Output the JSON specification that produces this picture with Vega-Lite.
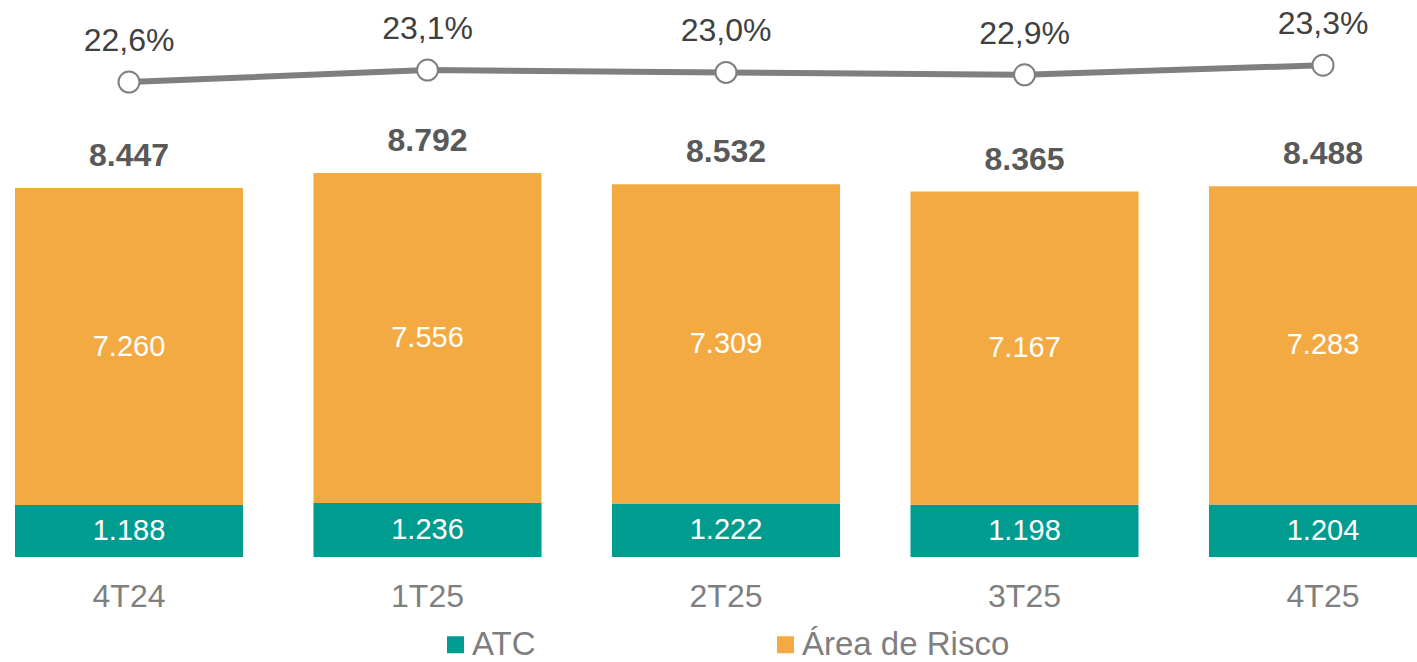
{
  "$schema": "https://vega.github.io/schema/vega-lite/v6.json",
  "width": 1417,
  "height": 557,
  "autosize": {"type": "none"},
  "padding": {"left": 0, "top": 0, "right": 0, "bottom": 105},
  "background": "white",
  "config": {
    "view": {"stroke": null},
    "font": "Liberation Sans",
    "locale": {"number": {"decimal": ",", "thousands": ".", "grouping": [3], "currency": ["R$", ""]}}
  },
  "datasets": {
    "barras": [
      {"periodo": "4T24", "serie": "ATC", "valor": 1188},
      {"periodo": "4T24", "serie": "Área de Risco", "valor": 7260},
      {"periodo": "1T25", "serie": "ATC", "valor": 1236},
      {"periodo": "1T25", "serie": "Área de Risco", "valor": 7556},
      {"periodo": "2T25", "serie": "ATC", "valor": 1222},
      {"periodo": "2T25", "serie": "Área de Risco", "valor": 7309},
      {"periodo": "3T25", "serie": "ATC", "valor": 1198},
      {"periodo": "3T25", "serie": "Área de Risco", "valor": 7167},
      {"periodo": "4T25", "serie": "ATC", "valor": 1204},
      {"periodo": "4T25", "serie": "Área de Risco", "valor": 7283}
    ],
    "totais": [
      {"periodo": "4T24", "total": 8447, "pct": 0.226},
      {"periodo": "1T25", "total": 8792, "pct": 0.231},
      {"periodo": "2T25", "total": 8532, "pct": 0.230},
      {"periodo": "3T25", "total": 8365, "pct": 0.229},
      {"periodo": "4T25", "total": 8488, "pct": 0.233}
    ]
  },
  "encoding": {
    "x": {
      "field": "periodo",
      "type": "nominal",
      "sort": ["4T24", "1T25", "2T25", "3T25", "4T25"],
      "scale": {"range": [-20.25, 1472.25], "paddingInner": 0.236, "paddingOuter": 0.118},
      "axis": {
        "title": null,
        "domain": false,
        "ticks": false,
        "labelAngle": 0,
        "labelFont": "Liberation Sans",
        "labelFontSize": 32,
        "labelColor": "#7f7f7f",
        "labelPadding": 24,
        "labelBaseline": "top"
      }
    }
  },
  "layer": [
    {
      "data": {"name": "barras"},
      "transform": [
        {"stack": "valor", "groupby": ["periodo"], "sort": [{"field": "serie", "order": "ascending"}], "as": ["v0", "v1"]}
      ],
      "mark": {"type": "bar"},
      "encoding": {
        "y": {"field": "v0", "type": "quantitative", "scale": {"domain": [0, 12752], "nice": false, "zero": true}, "axis": null},
        "y2": {"field": "v1"},
        "color": {
          "field": "serie",
          "type": "nominal",
          "scale": {"domain": ["ATC", "Área de Risco"], "range": ["#009C8F", "#F4AA42"]},
          "legend": {
            "title": null,
            "orient": "none",
            "direction": "horizontal",
            "columns": 2,
            "legendX": 439,
            "legendY": 628,
            "symbolType": "square",
            "symbolSize": 289,
            "symbolStrokeWidth": 0,
            "labelFont": "Liberation Sans",
            "labelFontSize": 33,
            "labelColor": "#7f7f7f",
            "labelOffset": 0,
            "labelLimit": 500,
            "columnPadding": 233
          }
        }
      }
    },
    {
      "data": {"name": "barras"},
      "transform": [
        {"stack": "valor", "groupby": ["periodo"], "sort": [{"field": "serie", "order": "ascending"}], "as": ["v0", "v1"]},
        {"fold": ["v0", "v1"], "as": ["borda", "pos"]},
        {"aggregate": [{"op": "mean", "field": "pos", "as": "meio"}], "groupby": ["periodo", "serie", "valor"]}
      ],
      "mark": {"type": "text", "color": "white", "fontSize": 29, "font": "Liberation Sans", "baseline": "middle"},
      "encoding": {
        "y": {"field": "meio", "type": "quantitative", "scale": {"domain": [0, 12752], "nice": false}, "axis": null},
        "text": {"field": "valor", "type": "quantitative", "format": ",.0f"}
      }
    },
    {
      "data": {"name": "totais"},
      "mark": {"type": "text", "color": "#595959", "fontSize": 32, "fontWeight": "bold", "font": "Liberation Sans", "baseline": "alphabetic", "dy": -22},
      "encoding": {
        "y": {"field": "total", "type": "quantitative", "scale": {"domain": [0, 12752], "nice": false}, "axis": null},
        "text": {"field": "total", "type": "quantitative", "format": ",.0f"}
      }
    },
    {
      "data": {"name": "totais"},
      "layer": [
        {
          "mark": {"type": "line", "color": "#7f7f7f", "strokeWidth": 6},
          "encoding": {
            "y": {"field": "pct", "type": "quantitative", "scale": {"domain": [0.02808, 0.26017], "nice": false, "zero": false}, "axis": null}
          }
        },
        {
          "mark": {"type": "point", "shape": "circle", "filled": true, "fill": "white", "stroke": "#7f7f7f", "strokeWidth": 2, "size": 440, "opacity": 1},
          "encoding": {
            "y": {"field": "pct", "type": "quantitative"}
          }
        },
        {
          "mark": {"type": "text", "color": "#404040", "fontSize": 32, "font": "Liberation Sans", "baseline": "alphabetic", "dy": -31},
          "encoding": {
            "y": {"field": "pct", "type": "quantitative"},
            "text": {"field": "pct", "type": "quantitative", "format": ".1%"}
          }
        }
      ],
      "resolve": {"scale": {"y": "shared"}}
    }
  ],
  "resolve": {"scale": {"y": "independent"}}
}
